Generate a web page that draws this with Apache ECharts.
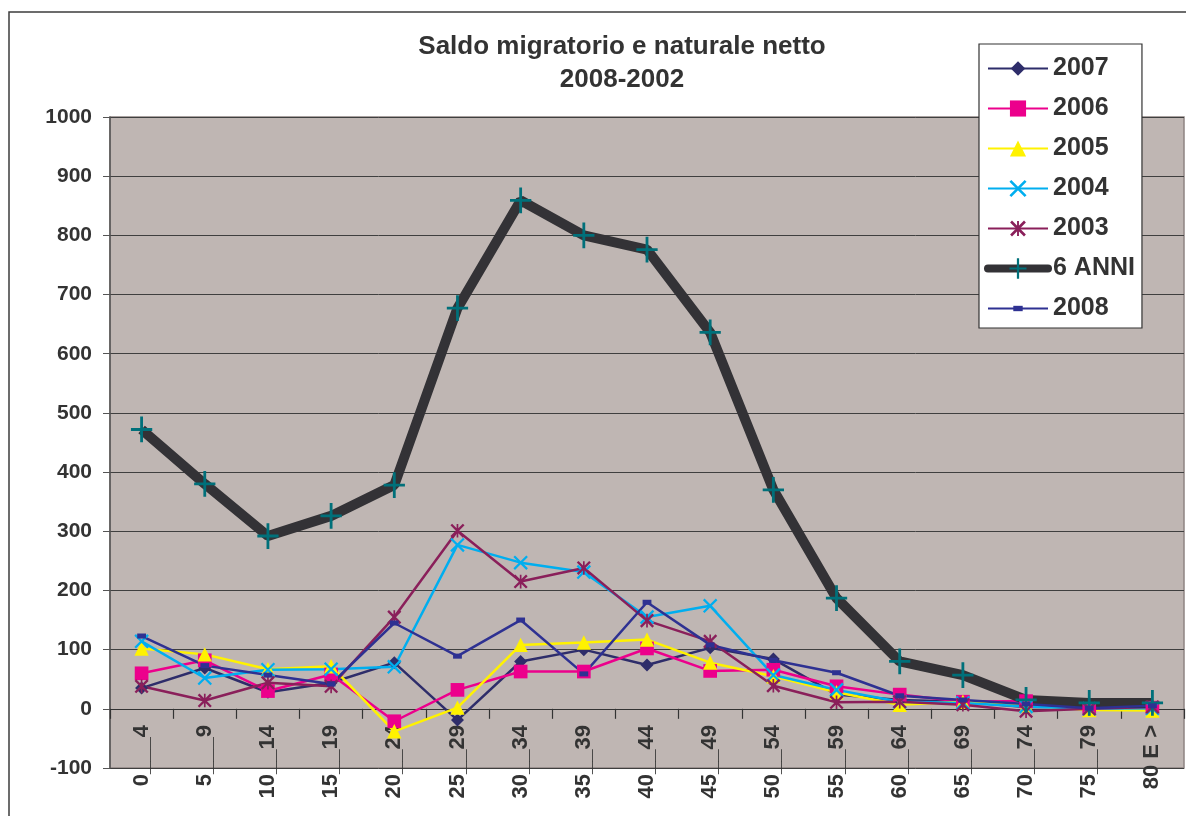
<!DOCTYPE html>
<html>
<head>
<meta charset="utf-8">
<script src="https://cdn.jsdelivr.net/npm/echarts@6/dist/echarts.min.js"></script>
<style>
  html, body { margin: 0; padding: 0; background: #ffffff; }
  #chart { width: 1186px; height: 816px; }
</style>
</head>
<body>
<div id="chart"></div>
<script>
// ---- data ----
const categories = ['0___4','5___9','10__14','15__19','20__24','25__29','30__34','35__39','40__44','45__49','50__54','55__59','60__64','65__69','70__74','75__79','80 E >'];
const yTicks = { min: -100, max: 1000, interval: 100 };
const titleLines = ['Saldo migratorio e naturale netto', '2008-2002'];
const seriesNames = ['2007', '2006', '2005', '2004', '2003', '6 ANNI', '2008'];
const d2007 = [35, 69, 28, 44, 78, -19, 80, 100, 74, 103, 84, 24, 15, 12, 3, 3, 4];
const d2006 = [60, 82, 30, 58, -21, 32, 63, 63, 102, 64, 66, 38, 24, 12, 13, 0, 2];
const d2005 = [102, 92, 67, 72, -38, 2, 108, 112, 117, 78, 55, 28, 7, 12, 6, -2, -3];
const d2004 = [114, 52, 66, 67, 71, 277, 247, 231, 155, 174, 57, 32, 12, 10, 4, 0, 1];
const d2003 = [38, 14, 44, 38, 155, 301, 215, 238, 149, 114, 39, 11, 12, 7, -4, 0, 3];
const d6anni = [472, 380, 292, 326, 378, 677, 859, 800, 776, 636, 370, 187, 80, 57, 15, 10, 10];
const d2008 = [123, 73, 57, 42, 145, 89, 150, 59, 180, 108, 82, 61, 22, 15, 8, 1, 5];

// ---- styles ----
const FONT = 'Liberation Sans, Arial, sans-serif';
// symbols drawn inside a fixed 0..100 box so legend and plot keep the same proportions
function boxed(inner) { return 'path://M0,0M100,100' + inner; }
function xShape(a, b, d) {
  return 'M' + (a - d) + ',' + (a + d) + 'L' + (a + d) + ',' + (a - d) + 'L' + (b + d) + ',' + (b - d) + 'L' + (b - d) + ',' + (b + d) + 'Z' +
         'M' + (b - d) + ',' + (a - d) + 'L' + (b + d) + ',' + (a + d) + 'L' + (a + d) + ',' + (b + d) + 'L' + (a - d) + ',' + (b - d) + 'Z';
}
const SYM_DIAMOND = boxed('M50,17.5L82.5,50L50,82.5L17.5,50Z');
const SYM_SQUARE = boxed('M14,14L86,14L86,86L14,86Z');
const SYM_TRIANGLE = boxed('M50,14L86,86L14,86Z');
const SYM_X = boxed(xShape(16, 84, 4.2));
const SYM_STAR = boxed(xShape(19, 81, 4.2) + 'M45.8,16L54.2,16L54.2,84L45.8,84Z');
const SYM_PLUS = boxed('M45,4L55,4L55,45L88,45L88,55L55,55L55,96L45,96L45,55L12,55L12,45L45,45Z');
const SYM_SMALLRECT = boxed('M29,38L71,38L71,62L29,62Z');

function lineSeries(name, data, color, symbol, size, width, symColor) {
  return {
    name: name, type: 'line', data: data,
    symbol: symbol, symbolSize: size, showAllSymbol: true,
    lineStyle: { color: color, width: width },
    itemStyle: { color: symColor || color },
    emphasis: { disabled: true },
    z: 3
  };
}

const series = [
  lineSeries(seriesNames[0], d2007, '#2E2D6A', SYM_DIAMOND, 20, 2.5),
  lineSeries(seriesNames[1], d2006, '#EC008C', SYM_SQUARE, 19, 2.5),
  lineSeries(seriesNames[2], d2005, '#FFF200', SYM_TRIANGLE, 20, 2.5),
  lineSeries(seriesNames[3], d2004, '#00AEEF', SYM_X, 19, 2.5),
  lineSeries(seriesNames[4], d2003, '#8A1F5A', SYM_STAR, 20, 2.5),
  lineSeries(seriesNames[5], d6anni, '#333236', SYM_PLUS, 28, 10, '#00707A'),
  lineSeries(seriesNames[6], d2008, '#2E3192', SYM_SMALLRECT, 21, 2.5)
];

const legendData = seriesNames.map(function (n) {
  return n === '6 ANNI'
    ? { name: n, lineStyle: { width: 8, cap: 'round' } }
    : { name: n, lineStyle: { width: 2 } };
});

const chart = echarts.init(document.getElementById('chart'), null, { renderer: 'canvas' });
chart.setOption({
  animation: false,
  backgroundColor: '#ffffff',
  grid: {
    left: 110, top: 117, right: 2, bottom: 48,
    outerBoundsMode: 'none', containLabel: false,
    show: true, backgroundColor: '#BFB6B3', borderColor: '#8F8482', borderWidth: 1.5
  },
  graphic: [
    { type: 'rect', z: -10, silent: true,
      shape: { x: 9, y: 12, width: 1200, height: 830 },
      style: { fill: null, stroke: '#3d3d3d', lineWidth: 1.5 } },
    { type: 'text', x: 622, y: 47, z: 10, silent: true,
      style: { text: titleLines[0], textAlign: 'center', textVerticalAlign: 'middle',
               font: 'bold 26px ' + FONT, fill: '#333333' } },
    { type: 'text', x: 622, y: 80, z: 10, silent: true,
      style: { text: titleLines[1], textAlign: 'center', textVerticalAlign: 'middle',
               font: 'bold 26px ' + FONT, fill: '#333333' } }
  ],
  legend: {
    data: legendData,
    orient: 'vertical',
    left: 979, top: 44,
    itemWidth: 60, itemHeight: 28, itemGap: 15,
    padding: [12, 7, 7, 5],
    backgroundColor: '#ffffff', borderColor: '#333333', borderWidth: 1.2,
    textStyle: { fontSize: 25, fontWeight: 'bold', color: '#333333', fontFamily: FONT },
    selectedMode: false
  },
  xAxis: {
    type: 'category',
    data: categories,
    boundaryGap: true,
    axisLine: { onZero: true, lineStyle: { color: '#333333', width: 1.2 } },
    axisTick: { show: true, length: 10, alignWithLabel: false, lineStyle: { color: '#333333', width: 1.2 } },
    axisLabel: {
      interval: 0, rotate: 90, margin: -43, hideOverlap: false,
      fontSize: 22, fontWeight: 'bold', color: '#333333', fontFamily: FONT
    },
    splitLine: { show: false }
  },
  yAxis: {
    type: 'value',
    min: yTicks.min, max: yTicks.max, interval: yTicks.interval,
    axisLine: { show: true, lineStyle: { color: '#555555', width: 1.5 } },
    axisTick: { show: true, length: 7, lineStyle: { color: '#555555' } },
    axisLabel: { fontSize: 21, fontWeight: 'bold', color: '#333333', fontFamily: FONT, margin: 18,
                 formatter: function (v) { return String(v); } },
    splitLine: { show: true, lineStyle: { color: '#3f3f3f', width: 1 } }
  },
  series: series
});
</script>
</body>
</html>
